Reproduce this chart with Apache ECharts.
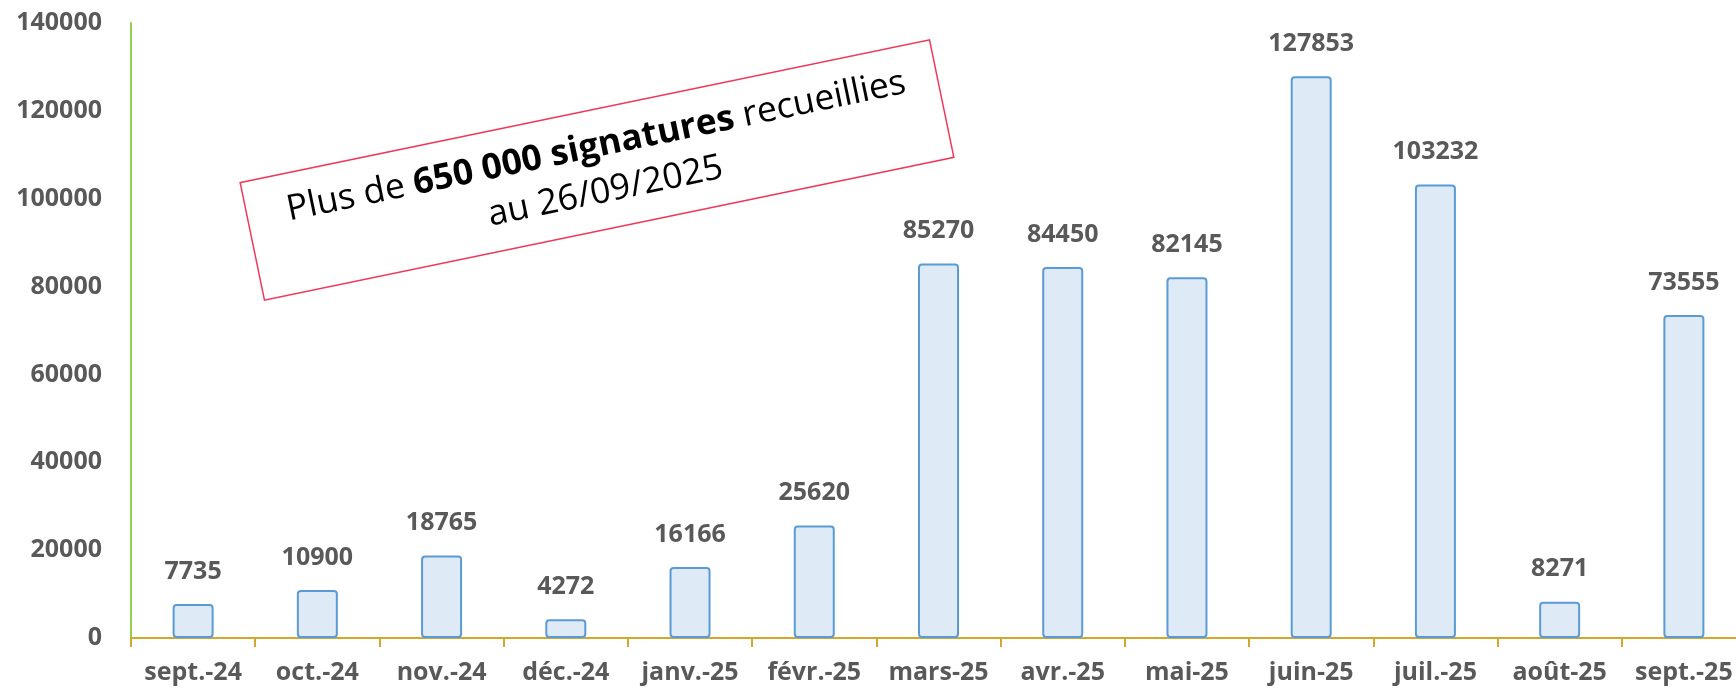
<!DOCTYPE html>
<html>
<head>
<meta charset="utf-8">
<title>Signatures par mois</title>
<script src="https://cdn.jsdelivr.net/npm/echarts@6/dist/echarts.min.js"></script>
<style>
  html, body { margin: 0; padding: 0; background: #ffffff; }
  #chart { width: 1736px; height: 691px; }
</style>
</head>
<body>
<div id="chart"></div>
<script>
// mois
const months = ['sept.-24', 'oct.-24', 'nov.-24', 'déc.-24', 'janv.-25', 'févr.-25', 'mars-25', 'avr.-25', 'mai-25', 'juin-25', 'juil.-25', 'août-25', 'sept.-25']
// signatures recueillies par mois
const signatures = [7735, 10900, 18765, 4272, 16166, 25620, 85270, 84450, 82145, 127853, 103232, 8271, 73555]
// axe y
const yMin = 0
const yMax = 140000
const yStep = 20000

const textGrey = '#595959'
const fontFam = '"Open Sans", "Noto Sans", sans-serif'

var chartDom = document.getElementById('chart');
var myChart = echarts.init(chartDom);
var option;

option = {
  animation: false,
  backgroundColor: '#ffffff',
  grid: {
    left: 131,
    top: 23,
    bottom: 53,
    width: 1615,
    // le dernier mois déborde à droite, comme sur l'original
    outerBoundsMode: 'none',
    containLabel: false
  },
  xAxis: {
    type: 'category',
    data: months,
    axisLine: {
      show: true,
      lineStyle: { color: '#d4a72c', width: 2 }
    },
    axisTick: {
      show: true,
      length: 9,
      lineStyle: { color: '#d4a72c', width: 2 }
    },
    axisLabel: {
      interval: 0,
      margin: 22,
      color: textGrey,
      fontSize: 25,
      fontWeight: 'bold',
      fontFamily: fontFam
    },
    splitLine: { show: false }
  },
  yAxis: {
    type: 'value',
    min: yMin,
    max: yMax,
    interval: yStep,
    axisLine: {
      show: true,
      lineStyle: { color: '#92d050', width: 2 }
    },
    axisTick: { show: false },
    splitLine: { show: false },
    axisLabel: {
      margin: 29,
      color: textGrey,
      fontSize: 25,
      fontWeight: 'bold',
      fontFamily: fontFam,
      formatter: v => String(v)
    }
  },
  series: [
    {
      type: 'bar',
      data: signatures,
      barWidth: 41,
      itemStyle: {
        color: '#deebf7',
        borderColor: '#5b9bd5',
        borderWidth: 2,
        borderRadius: 3
      },
      label: {
        show: true,
        position: 'top',
        distance: 20,
        color: textGrey,
        fontSize: 25,
        fontWeight: 'bold',
        fontFamily: fontFam
      }
    }
  ],
  // encadré rouge incliné
  graphic: [
    {
      type: 'group',
      x: 597,
      y: 170,
      rotation: 11.7 * Math.PI / 180,
      children: [
        {
          type: 'rect',
          shape: { x: -352, y: -60, width: 704, height: 120 },
          style: { fill: '#ffffff', stroke: '#f0385a', lineWidth: 1.5 }
        },
        {
          type: 'text',
          x: 4,
          y: 0,
          style: {
            text: '{n|Plus de }{b|650 000 signatures}{n| recueillies}\n{n|au 26/09/2025}',
            align: 'center',
            verticalAlign: 'middle',
            fill: '#000000',
            rich: {
              n: { fontSize: 35.5, fontFamily: fontFam, color: '#000000', lineHeight: 46 },
              b: { fontSize: 35.5, fontFamily: fontFam, fontWeight: 'bold', color: '#000000', lineHeight: 46 }
            }
          }
        }
      ]
    }
  ]
};

option && myChart.setOption(option);
</script>
</body>
</html>
